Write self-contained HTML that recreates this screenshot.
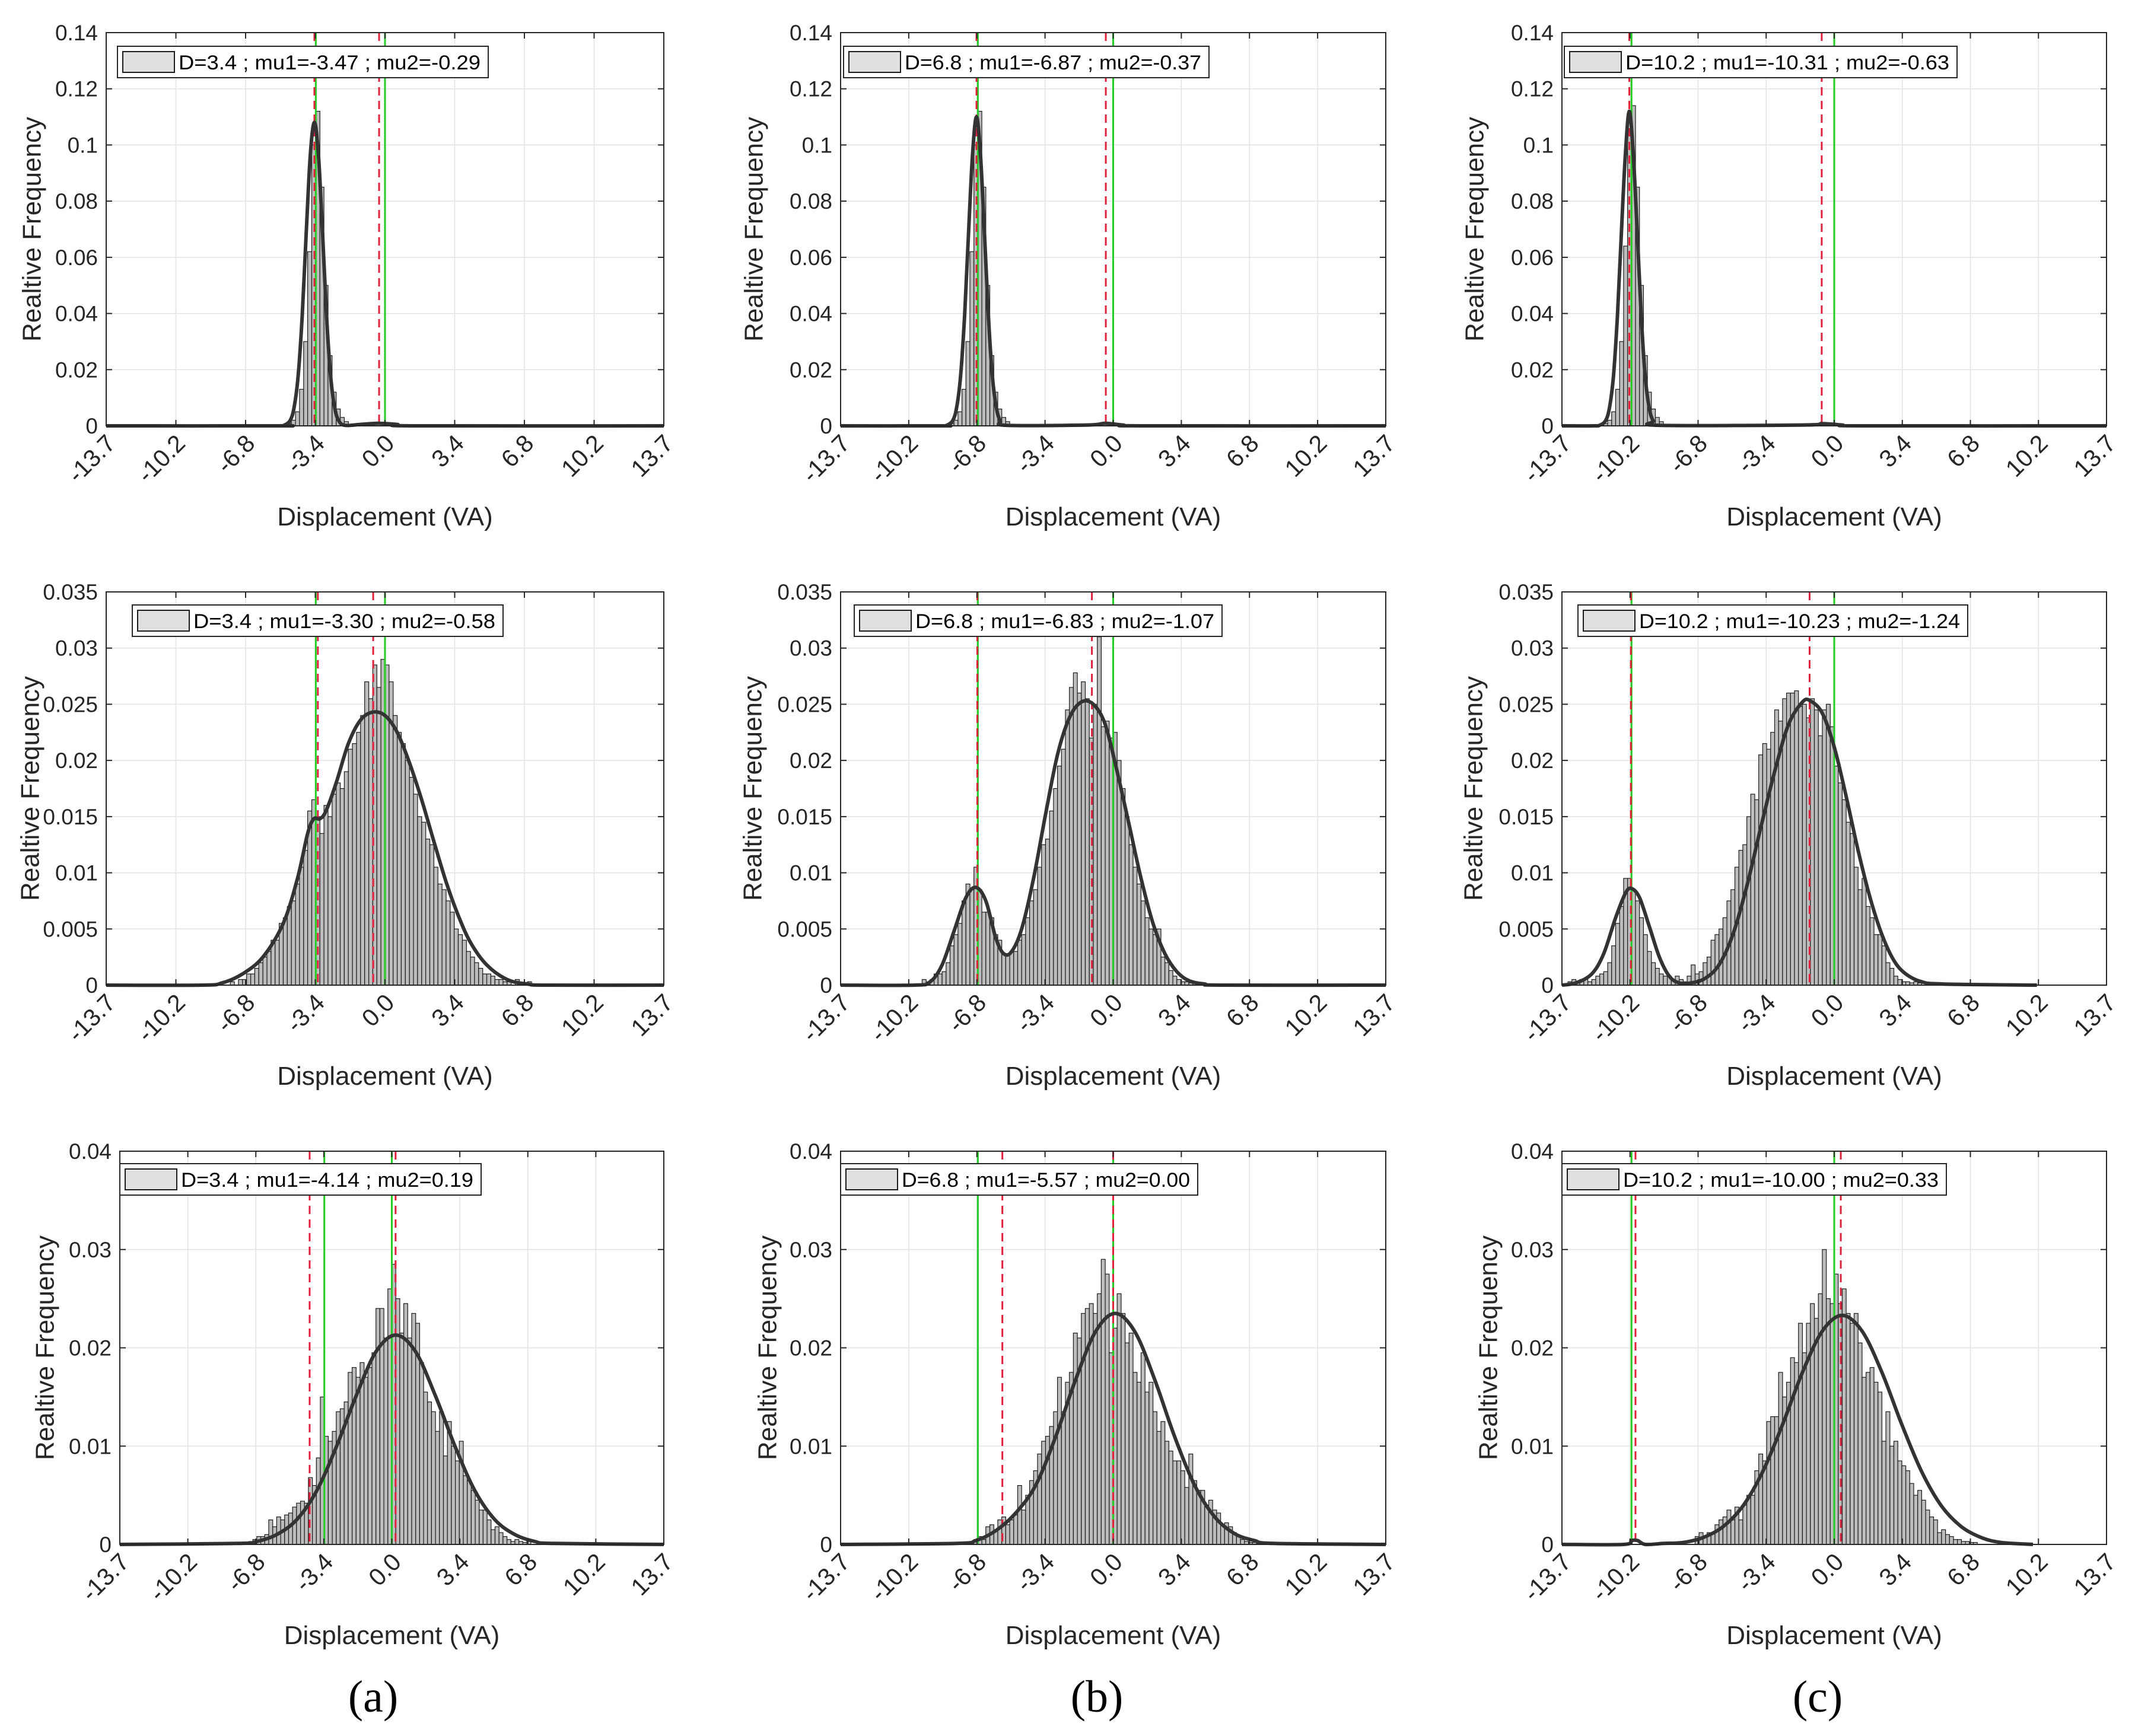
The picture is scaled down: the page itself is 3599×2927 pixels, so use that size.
<!DOCTYPE html>
<html><head><meta charset="utf-8">
<style>
html,body{margin:0;padding:0;background:#fff;}
svg{display:block;}
text{font-family:"Liberation Sans",Arial,sans-serif;fill:#262626;}
</style></head>
<body>
<svg id="fig" width="3599" height="2927" viewBox="0 0 3599 2927" xmlns="http://www.w3.org/2000/svg">
<rect x="0" y="0" width="3599" height="2927" fill="#fff"/>
<text x="629" y="2886" text-anchor="middle" style="font-family:'Liberation Serif',serif;font-size:76px;fill:#000">(a)</text>
<text x="1849" y="2886" text-anchor="middle" style="font-family:'Liberation Serif',serif;font-size:76px;fill:#000">(b)</text>
<text x="3064" y="2886" text-anchor="middle" style="font-family:'Liberation Serif',serif;font-size:76px;fill:#000">(c)</text>
</svg>
<script>
// ---------- shared axis data ----------
const binWidth = 0.2;
const xTickValues = [-13.7,-10.275,-6.85,-3.425,0,3.425,6.85,10.275,13.7];
const xTickLabels = ["-13.7","-10.2","-6.8","-3.4","0.0","3.4","6.8","10.2","13.7"];
const yTicksRow1 = [0,0.02,0.04,0.06,0.08,0.1,0.12,0.14];
const yLabelsRow1 = ["0","0.02","0.04","0.06","0.08","0.1","0.12","0.14"];
const yTicksRow2 = [0,0.005,0.01,0.015,0.02,0.025,0.03,0.035];
const yLabelsRow2 = ["0","0.005","0.01","0.015","0.02","0.025","0.03","0.035"];
const yTicksRow3 = [0,0.01,0.02,0.03,0.04];
const yLabelsRow3 = ["0","0.01","0.02","0.03","0.04"];

// ---------- panel a1 ----------
const startA1 = -5.0;
const barsA1 = [0.0003,0.0008,0.002,0.005,0.013,0.03,0.062,0.1,0.112,0.085,0.05,0.025,0.012,0.006,0.003,0.0015];
const curveXA1 = [-13.7,-5.2,-4.97,-4.67,-4.47,-4.27,-4.07,-3.87,-3.67,-3.47,-3.27,-3.07,-2.87,-2.67,-2.47,-2.27,-1.97,-1.2,-0.3,0.6,1.5,13.7];
const curveYA1 = [0,0,0.0002,0.0018,0.0064,0.0176,0.039,0.0687,0.0965,0.108,0.0965,0.0687,0.039,0.0176,0.0064,0.0018,0.0002,0.0005,0.0009,0.0005,0,0];
const trueA1 = [-3.4,0];
const muA1 = [-3.47,-0.29];
// ---------- panel b1 ----------
const startB1 = -8.4;
const barsB1 = [0.0003,0.0008,0.002,0.005,0.013,0.03,0.062,0.1,0.112,0.085,0.05,0.025,0.012,0.006,0.003,0.0015];
const curveXB1 = [-13.7,-8.6,-8.37,-8.07,-7.87,-7.67,-7.47,-7.27,-7.07,-6.87,-6.67,-6.47,-6.27,-6.07,-5.87,-5.67,-5.37,-1.3,-0.4,0.5,1.5,13.7];
const curveYB1 = [0,0,0.0002,0.0018,0.0064,0.0176,0.039,0.0687,0.0965,0.11,0.0965,0.0687,0.039,0.0176,0.0064,0.0018,0.0002,0.0003,0.0009,0.0003,0,0];
const trueB1 = [-6.8,0];
const muB1 = [-6.87,-0.37];
// ---------- panel c1 ----------
const startC1 = -11.8;
const barsC1 = [0.0003,0.0008,0.002,0.005,0.013,0.03,0.064,0.104,0.114,0.085,0.05,0.025,0.012,0.006,0.003,0.0015];
const curveXC1 = [-13.7,-12.1,-11.81,-11.51,-11.31,-11.11,-10.91,-10.71,-10.51,-10.31,-10.11,-9.91,-9.71,-9.51,-9.31,-9.11,-8.81,-1.6,-0.6,0.4,1.5,13.7];
const curveYC1 = [0,0,0.0002,0.0018,0.0064,0.0176,0.039,0.0687,0.0965,0.112,0.0965,0.0687,0.039,0.0176,0.0064,0.0018,0.0002,0.0003,0.0008,0.0003,0,0];
const trueC1 = [-10.2,0];
const muC1 = [-10.31,-0.63];
// ---------- panel a2 ----------
const startA2 = -7.6;
const barsA2 = [0.0003,0,0.0005,0.0005,0.001,0.001,0.0015,0.002,
 0.0025,0.003,0.004,0.004,0.0055,0.006,0.007,0.0075,0.009,0.0105,
 0.012,0.0155,0.0165,0.015,0.0135,0.016,0.015,0.017,0.018,0.0175,
 0.019,0.021,0.0215,0.0225,0.024,0.027,0.0255,0.0285,0.0265,0.029,
 0.0285,0.027,0.024,0.0225,0.0215,0.02,0.0185,0.017,0.015,0.0145,
 0.013,0.0125,0.0105,0.009,0.0085,0.0075,0.0065,0.005,0.0045,0.004,
 0.003,0.0025,0.002,0.0015,0.001,0.001,0.0008,0.0005,0.0005,0.0003,
 0.0003,0,0.0005,0,0,0.0003];
const curveXA2 = [-13.7,-9,-8,-7,-6,-5,-4.3,-3.8,-3.5,-3.2,-2.9,-2.4,-1.8,-1.2,-0.6,0,0.6,1.2,1.8,2.4,3.0,3.6,4.2,5,6,7,8,13.7];
const curveYA2 = [0,0,0.0002,0.001,0.0025,0.0055,0.0095,0.0135,0.0148,0.0148,0.0155,0.018,0.0215,0.0236,0.0243,0.024,0.0225,0.0198,0.0165,0.0128,0.0092,0.0062,0.0038,0.0018,0.0005,0.0001,0,0];
const trueA2 = [-3.4,0];
const muA2 = [-3.30,-0.58];
// ---------- panel b2 ----------
const startB2 = -9.6;
const barsB2 = [0.0005,0.0003,0.0005,0.001,0.001,0.0012,0.002,0.0035,
 0.0045,0.0055,0.0075,0.009,0.0085,0.0105,0.0085,0.0065,0.0065,0.006,
 0.0045,0.004,0.0028,0.0028,0.003,0.003,0.004,0.0045,0.006,0.0075,
 0.0085,0.0105,0.0125,0.013,0.0155,0.0175,0.0195,0.021,0.0245,0.0265,
 0.0278,0.026,0.027,0.0255,0.022,0.025,0.031,0.023,0.0235,0.022,
 0.0225,0.02,0.0175,0.015,0.0125,0.0105,0.009,0.0075,0.006,0.005,
 0.0045,0.005,0.0025,0.002,0.0013,0.0008,0.0005,0.0003,0.0003,0.0002,0.0003];
const curveXB2 = [-13.7,-10,-9.2,-8.6,-8.0,-7.4,-6.9,-6.4,-5.9,-5.5,-5.1,-4.6,-4.0,-3.4,-2.8,-2.2,-1.6,-1.0,-0.4,0.2,0.8,1.4,2.0,2.6,3.2,3.8,4.6,5.5,13.7];
const curveYB2 = [0,0,0.0003,0.0018,0.0048,0.0078,0.0087,0.0075,0.0042,0.0028,0.003,0.005,0.0095,0.0152,0.0205,0.0238,0.0252,0.025,0.0232,0.019,0.0143,0.0095,0.0055,0.0028,0.0012,0.0004,0.0001,0,0];
const trueB2 = [-6.8,0];
const muB2 = [-6.83,-1.07];
// ---------- panel c2 ----------
const startC2 = -13.4;
const barsC2 = [0.0003,0.0005,0.0003,0.0005,0.0005,0.0003,0.0005,
 0.0008,0.001,0.0012,0.002,0.0035,0.0055,0.007,0.0095,0.0095,0.0085,
 0.0075,0.006,0.0045,0.003,0.002,0.0015,0.001,0.0008,0.0008,0.0005,
 0.0008,0.0005,0.0003,0.0008,0.0018,0.001,0.0012,0.002,0.0025,0.004,
 0.0045,0.005,0.006,0.0075,0.0085,0.0105,0.012,0.0125,0.015,0.017,
 0.0165,0.0205,0.0215,0.021,0.0225,0.0245,0.0235,0.0255,0.026,0.026,
 0.0262,0.0248,0.025,0.0238,0.0255,0.0245,0.0222,0.0245,0.025,0.023,
 0.0195,0.018,0.0165,0.0145,0.0135,0.0105,0.0085,0.0095,0.007,0.006,
 0.0045,0.0045,0.0035,0.002,0.0015,0.0008,0.0005,0.0003,0.0003,0.0002,0.0003,0.0002];
const curveXC2 = [-13.7,-13,-12.2,-11.6,-11.0,-10.5,-10.2,-9.8,-9.3,-8.8,-8.3,-7.8,-7.2,-6.5,-5.8,-5.1,-4.4,-3.7,-3.0,-2.3,-1.6,-1.2,-0.6,0,0.6,1.2,1.8,2.4,3.0,3.6,4.4,5.5,10.2];
const curveYC2 = [0,0.0002,0.001,0.0028,0.006,0.0082,0.0086,0.0078,0.0052,0.0025,0.0008,0.0002,0.0002,0.0006,0.0018,0.0045,0.0088,0.014,0.019,0.0232,0.0252,0.0253,0.0242,0.0212,0.0168,0.012,0.0078,0.0045,0.0022,0.001,0.0003,0.0001,0];
const trueC2 = [-10.2,0];
const muC2 = [-10.23,-1.24];
// ---------- panel a3 ----------
const startA3 = -7.2;
const barsA3 = [0.0003,0.0005,0.0008,0.0008,0.001,0.0025,
 0.0018,0.0028,0.0025,0.003,0.0032,0.0038,0.0042,0.0044,0.0042,0.0068,
 0.006,0.0088,0.015,0.011,0.0105,0.0115,0.0135,0.0138,0.0145,0.0175,
 0.018,0.017,0.0185,0.017,0.018,0.0195,0.024,0.024,0.021,0.026,
 0.0285,0.025,0.0215,0.0245,0.021,0.0235,0.0225,0.0185,0.0155,0.0145,
 0.0135,0.0115,0.0135,0.009,0.0125,0.01,0.0085,0.0105,0.007,0.0065,
 0.0055,0.0045,0.0035,0.0035,0.0025,0.0015,0.0018,0.0012,0.0008,0.0005,0.0003,0.0005,0.0003,0.0002,0.0003];
const curveXA3 = [-13.7,-7.8,-6.8,-5.8,-4.8,-3.8,-2.8,-1.8,-0.8,0.2,1.2,2.2,3.2,4.2,5.2,6.2,7.2,8.2,13.7];
const curveYA3 = [0,0.0001,0.0003,0.001,0.0025,0.0054,0.0099,0.0151,0.0196,0.0213,0.0196,0.0151,0.0099,0.0054,0.0025,0.001,0.0003,0.0001,0];
const trueA3 = [-3.4,0];
const muA3 = [-4.14,0.19];
// ---------- panel b3 ----------
const startB3 = -7.0;
const barsB3 = [0.0005,0.0008,0.0005,0.0018,0.002,0.0015,0.0025,0.0028,0.002,0.0025,
 0.003,0.006,0.0035,0.005,0.0065,0.0075,0.0092,0.0105,0.011,0.012,
 0.0135,0.017,0.0135,0.0165,0.0175,0.0215,0.021,0.0235,0.024,0.0245,
 0.0235,0.0255,0.029,0.0275,0.0195,0.022,0.0255,0.0235,0.0205,0.0215,
 0.0175,0.0165,0.0195,0.0155,0.0165,0.0135,0.0115,0.0125,0.0105,0.0095,
 0.0085,0.0085,0.0075,0.0058,0.0092,0.0065,0.0055,0.0055,0.004,0.0045,
 0.0035,0.0032,0.002,0.0022,0.0018,0.0012,0.0008,0.0005,0.0003,0.0002,0.0002,0.0001];
const curveXB3 = [-13.7,-7.9,-6.9,-5.9,-4.9,-3.9,-2.9,-1.9,-0.9,0.1,1.1,2.1,3.1,4.1,5.1,6.1,7.1,8.1,13.7];
const curveYB3 = [0,0.0001,0.0004,0.0014,0.0032,0.006,0.0109,0.0167,0.0216,0.0235,0.0216,0.0167,0.0109,0.006,0.0028,0.0011,0.0004,0.0001,0];
const trueB3 = [-6.8,0];
const muB3 = [-5.57,0.00];
// ---------- panel c3 ----------
const startC3 = -7.0;
const barsC3 = [0.0008,0.0012,0.0008,0.0012,0.0012,0.002,0.0025,0.0028,0.0035,0.0025,
 0.0038,0.0025,0.004,0.005,0.005,0.0075,0.0092,0.0085,0.0125,0.013,
 0.013,0.0175,0.015,0.0165,0.019,0.0185,0.0225,0.0195,0.0225,0.0245,
 0.023,0.0255,0.03,0.025,0.0245,0.0275,0.0245,0.026,0.0235,0.0225,
 0.0235,0.0205,0.017,0.0175,0.018,0.0165,0.0155,0.0105,0.0135,0.01,
 0.0105,0.0085,0.008,0.0075,0.0062,0.005,0.0055,0.0045,0.0035,0.0028,
 0.0025,0.0012,0.0015,0.001,0.0008,0.0005,0.0005,0.0003,0.0003,0.0002,0.0002];
const curveXC3 = [-13.7,-10.6,-10.2,-9.9,-9.5,-8.6,-7.6,-6.6,-5.6,-4.6,-3.6,-2.6,-1.6,-0.6,0.4,1.4,2.4,3.4,4.4,5.4,6.4,7.4,8.4,10.0];
const curveYC3 = [0,0,0.0004,0.0004,0,0.0001,0.0002,0.0007,0.0018,0.0039,0.0074,0.0122,0.0175,0.0217,0.0233,0.0217,0.0175,0.0122,0.0074,0.0039,0.0018,0.0007,0.0002,0];
const trueC3 = [-10.2,0];
const muC3 = [-10.00,0.33];

// ---------- layout (pixel geometry only) ----------
const NS = "http://www.w3.org/2000/svg";
const svg = document.getElementById('fig');
const rows = [
  {y:55, ymax:0.14, ticks:yTicksRow1, labels:yLabelsRow1},
  {y:998, ymax:0.035, ticks:yTicksRow2, labels:yLabelsRow2},
  {y:1941, ymax:0.04, ticks:yTicksRow3, labels:yLabelsRow3}
];
const H = 663;
const panels = [
 {key:'a1', r:0, x:179, w:940, ytx:53, lg:[19,23,625], legend:"D=3.4 ; mu1=-3.47 ; mu2=-0.29", start:startA1, bars:barsA1, cx:curveXA1, cy:curveYA1, tr:trueA1, mu:muA1},
 {key:'b1', r:0, x:1417, w:919, ytx:1270, lg:[5,23,616], legend:"D=6.8 ; mu1=-6.87 ; mu2=-0.37", start:startB1, bars:barsB1, cx:curveXB1, cy:curveYB1, tr:trueB1, mu:muB1},
 {key:'c1', r:0, x:2633, w:918, ytx:2485, lg:[4,23,662], legend:"D=10.2 ; mu1=-10.31 ; mu2=-0.63", start:startC1, bars:barsC1, cx:curveXC1, cy:curveYC1, tr:trueC1, mu:muC1},
 {key:'a2', r:1, x:179, w:940, ytx:50, lg:[44,22,625], legend:"D=3.4 ; mu1=-3.30 ; mu2=-0.58", start:startA2, bars:barsA2, cx:curveXA2, cy:curveYA2, tr:trueA2, mu:muA2},
 {key:'b2', r:1, x:1417, w:919, ytx:1268, lg:[23,22,620], legend:"D=6.8 ; mu1=-6.83 ; mu2=-1.07", start:startB2, bars:barsB2, cx:curveXB2, cy:curveYB2, tr:trueB2, mu:muB2},
 {key:'c2', r:1, x:2633, w:918, ytx:2483, lg:[27,22,657], legend:"D=10.2 ; mu1=-10.23 ; mu2=-1.24", start:startC2, bars:barsC2, cx:curveXC2, cy:curveYC2, tr:trueC2, mu:muC2},
 {key:'a3', r:2, x:202, w:917, ytx:75, lg:[0,21,609], legend:"D=3.4 ; mu1=-4.14 ; mu2=0.19", start:startA3, bars:barsA3, cx:curveXA3, cy:curveYA3, tr:trueA3, mu:muA3},
 {key:'b3', r:2, x:1417, w:919, ytx:1293, lg:[0,21,602], legend:"D=6.8 ; mu1=-5.57 ; mu2=0.00", start:startB3, bars:barsB3, cx:curveXB3, cy:curveYB3, tr:trueB3, mu:muB3},
 {key:'c3', r:2, x:2633, w:918, ytx:2508, lg:[0,21,648], legend:"D=10.2 ; mu1=-10.00 ; mu2=0.33", start:startC3, bars:barsC3, cx:curveXC3, cy:curveYC3, tr:trueC3, mu:muC3}
];

function mk(tag, attrs, parent){
  const e = document.createElementNS(NS, tag);
  for (const k in attrs) e.setAttribute(k, attrs[k]);
  (parent||svg).appendChild(e);
  return e;
}
function smoothPath(pts){
  let d = 'M'+pts[0][0].toFixed(1)+','+pts[0][1].toFixed(1);
  for (let i=0;i<pts.length-1;i++){
    const p0=pts[Math.max(0,i-1)], p1=pts[i], p2=pts[i+1], p3=pts[Math.min(pts.length-1,i+2)];
    const c1x=p1[0]+(p2[0]-p0[0])/6, c1y=p1[1]+(p2[1]-p0[1])/6;
    const c2x=p2[0]-(p3[0]-p1[0])/6, c2y=p2[1]-(p3[1]-p1[1])/6;
    d += ' C'+c1x.toFixed(1)+','+c1y.toFixed(1)+' '+c2x.toFixed(1)+','+c2y.toFixed(1)+' '+p2[0].toFixed(1)+','+p2[1].toFixed(1);
  }
  return d;
}

panels.forEach(p => {
  const row = rows[p.r];
  const top = row.y, bot = row.y + H;
  const xs = v => p.x + (v - (-13.7)) / 27.4 * p.w;
  const ys = v => bot - v / row.ymax * H;
  const g = mk('g', {});
  
  

  // grid
  const grid = mk('g', {stroke:'#e3e3e3','stroke-width':1.5}, g);
  
  
  xTickValues.forEach(v => mk('line',{x1:xs(v),x2:xs(v),y1:top,y2:bot},grid));
  row.ticks.forEach(v => mk('line',{x1:p.x,x2:p.x+p.w,y1:ys(v),y2:ys(v)},grid));

  // bars
  const bg = mk('g', {fill:'#bdbdbd', stroke:'#1a1a1a','stroke-width':1.2}, g);
  
  
  p.bars.forEach((v,i) => {
    if (v <= 0) return;
    const x0 = xs(p.start + i*binWidth), x1 = xs(p.start + (i+1)*binWidth);
    const r = mk('rect',{x:x0.toFixed(1),y:ys(v).toFixed(1),width:(x1-x0).toFixed(1),height:(bot-ys(v)).toFixed(1)},bg);
    
    
  });

  // true-position lines (green) and estimated means (red dashed)
  p.tr.forEach(v => {
    const l = mk('line',{x1:xs(v),x2:xs(v),y1:top,y2:bot,stroke:'#22cc22','stroke-width':3},g);
    
    
  });
  p.mu.forEach(v => {
    const l = mk('line',{x1:xs(v),x2:xs(v),y1:top,y2:bot,stroke:'#e0213c','stroke-width':3,'stroke-dasharray':'14 9'},g);
    
    
  });

  // fitted curve
  const pts = p.cx.map((v,i) => [xs(v), ys(p.cy[i])]);
  const c = mk('path',{d:smoothPath(pts),fill:'none',stroke:'#333','stroke-width':6,'stroke-linejoin':'round'},g);
  
  

  // axes box + ticks
  const ax = mk('g',{stroke:'#262626','stroke-width':2,fill:'none'},g);
  
  
  mk('rect',{x:p.x,y:top,width:p.w,height:H},ax);
  xTickValues.forEach(v => {
    mk('line',{x1:xs(v),x2:xs(v),y1:bot,y2:bot-10},ax);
    mk('line',{x1:xs(v),x2:xs(v),y1:top,y2:top+10},ax);
  });
  row.ticks.forEach(v => {
    mk('line',{x1:p.x,x2:p.x+10,y1:ys(v),y2:ys(v)},ax);
    mk('line',{x1:p.x+p.w-10,x2:p.x+p.w,y1:ys(v),y2:ys(v)},ax);
  });

  // tick labels
  xTickValues.forEach((v,i) => {
    const ax0 = xs(v)+8, ay0 = bot+22;
    const t = mk('text',{x:ax0,y:ay0,'text-anchor':'end','font-size':41,transform:'rotate(-45 '+ax0+' '+ay0+')',dy:'0.35em'},g);
    t.textContent = xTickLabels[i];
    
    
  });
  row.ticks.forEach((v,i) => {
    const t = mk('text',{x:p.x-14,y:ys(v)+13,'text-anchor':'end','font-size':37},g);
    t.textContent = row.labels[i];
    
    
  });

  // axis titles
  const xt = mk('text',{x:p.x+p.w/2,y:bot+168,'text-anchor':'middle','font-size':44},g);
  xt.textContent = 'Displacement (VA)';
  
  
  const cyv = top + H/2;
  const yt = mk('text',{x:p.ytx,y:cyv,'text-anchor':'middle','font-size':44,dy:'0.35em',transform:'rotate(-90 '+p.ytx+' '+cyv+')'},g);
  yt.textContent = 'Realtive Frequency';
  
  

  // legend
  const lx = p.x + p.lg[0], ly = top + p.lg[1], lw = p.lg[2], lh = 53;
  const lgG = mk('g',{},g);
  
  
  mk('rect',{x:lx,y:ly,width:lw,height:lh,fill:'#fff',stroke:'#262626','stroke-width':2},lgG);
  mk('rect',{x:lx+9,y:ly+9,width:87,height:35,fill:'#e0e0e0',stroke:'#1a1a1a','stroke-width':2},lgG);
  const lt = mk('text',{x:lx+103,y:ly+39,'font-size':34,textLength:lw-116,lengthAdjust:'spacingAndGlyphs',style:'fill:#000'},lgG);
  lt.textContent = p.legend;
  
  
});
</script>
</body></html>
